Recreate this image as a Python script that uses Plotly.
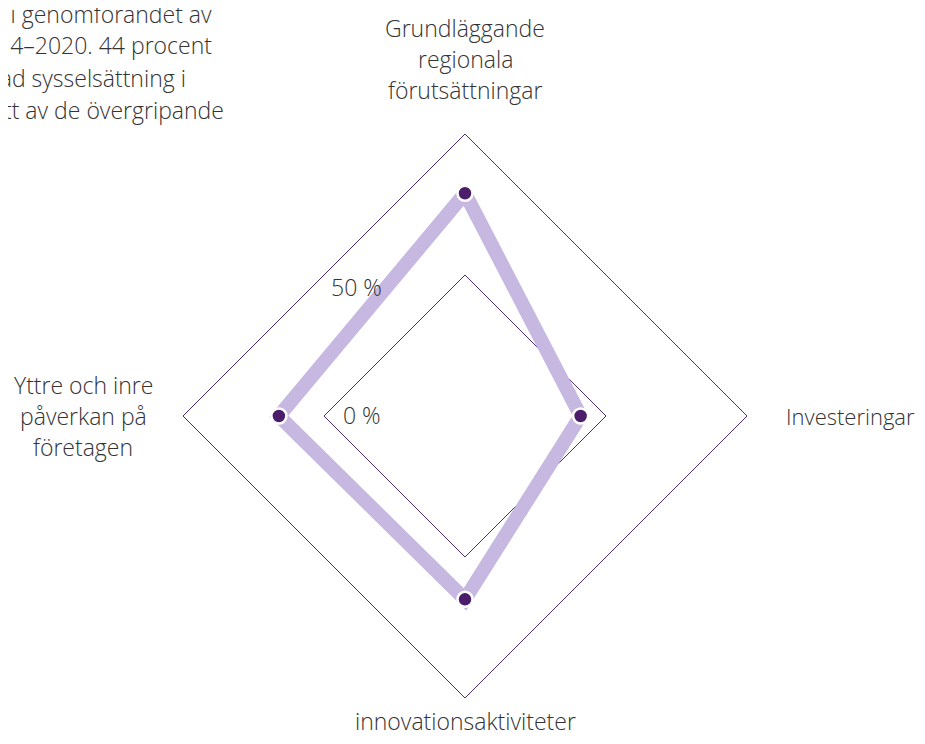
import plotly.graph_objects as go

# Axes, clockwise from the top
categories = [
    "Grundläggande regionala förutsättningar",
    "Investeringar",
    "innovationsaktiviteter",
    "Yttre och inre påverkan på företagen",
]
values = [29, -9, 15, 16]
tick_values = [0, 50]
tick_labels = ["0 %", "50 %"]

# Clipped paragraph from the neighbouring text column
side_text = [
    "e i genomförandet av",
    "14–2020. 44 procent",
    "tad sysselsättning i",
    "tt av de övergripande",
]

# page body has an 8px margin, so the figure sits 8px in from the window edge
OFF = 8
W, H = 925 - 2 * OFF, 744 - 2 * OFF
cx, cy, rad = 465, 416, 282
font_family = "Open Sans"
font_size = 23
text_color = "#333333"
grid_color = "#4c2c7c"
r_range = [-50, 50]


def px_x(x):
    return (x - OFF) / W


def px_y(y):
    return 1 - (y - OFF) / H


domain = dict(
    x=[px_x(cx - rad), px_x(cx + rad)],
    y=[px_y(cy + rad), px_y(cy - rad)],
)

fig = go.Figure()

fig.add_trace(go.Scatterpolar(
    r=values + values[:1],
    theta=categories + categories[:1],
    mode="lines",
    line=dict(color="#c7b8e1", width=14),
    hoverinfo="skip",
    showlegend=False,
    subplot="polar",
))
# markers go on an overlaid circular subplot: the linear-grid one hides
# points when the radial range starts below zero
fig.add_trace(go.Scatterpolar(
    r=values,
    theta=categories,
    mode="markers",
    marker=dict(color="#4b1d6b", size=15, line=dict(color="white", width=2.5)),
    hoverinfo="r+theta",
    showlegend=False,
    subplot="polar2",
))

fig.update_layout(
    width=W,
    height=H,
    margin=dict(l=0, r=0, t=0, b=0),
    paper_bgcolor="white",
    plot_bgcolor="white",
    font=dict(family=font_family, size=font_size, color=text_color),
    polar=dict(
        domain=domain,
        bgcolor="white",
        gridshape="linear",
        radialaxis=dict(
            range=r_range,
            tickvals=tick_values,
            showticklabels=False,
            ticks="",
            showline=False,
            gridcolor=grid_color,
            gridwidth=1,
        ),
        angularaxis=dict(
            rotation=90,
            direction="clockwise",
            categoryarray=categories,
            showticklabels=False,
            ticks="",
            showgrid=False,
            showline=True,
            linecolor=grid_color,
            linewidth=1,
        ),
    ),
    polar2=dict(
        domain=domain,
        bgcolor="rgba(0,0,0,0)",
        gridshape="circular",
        radialaxis=dict(range=r_range, visible=False),
        angularaxis=dict(
            rotation=90,
            direction="clockwise",
            categoryarray=categories,
            visible=False,
        ),
    ),
)

annotations = []


def add_text(txt, x, y, xanchor="center", size=font_size):
    annotations.append(dict(
        text=txt, x=px_x(x), y=px_y(y), xref="paper", yref="paper",
        xanchor=xanchor, yanchor="middle", showarrow=False,
        font=dict(family=font_family, size=size, color=text_color, weight=300),
    ))


# Category labels, one annotation per line
label_lines = [
    (["Grundläggande", "regionala", "förutsättningar"], 465, 28, font_size),
    (["Investeringar"], 850, 416, 22),
    (["innovationsaktiviteter"], 465, 721, font_size),
    (["Yttre och inre", "påverkan på", "företagen"], 83, 385, font_size),
]
for lines, x, y0, size in label_lines:
    for i, line in enumerate(lines):
        add_text(line, x, y0 + i * 31, size=size)

# Radial tick labels
for txt, x, y in zip(tick_labels, [362, 356], [415, 287]):
    add_text(txt, x, y)

# Clipped paragraph, right-aligned at the visible line ends
for txt, x_end, y in zip(side_text, [214, 214, 188, 226], [14, 45, 78, 110]):
    add_text(txt, x_end, y, xanchor="right")

fig.update_layout(annotations=annotations)

fig.write_html("out.html")
